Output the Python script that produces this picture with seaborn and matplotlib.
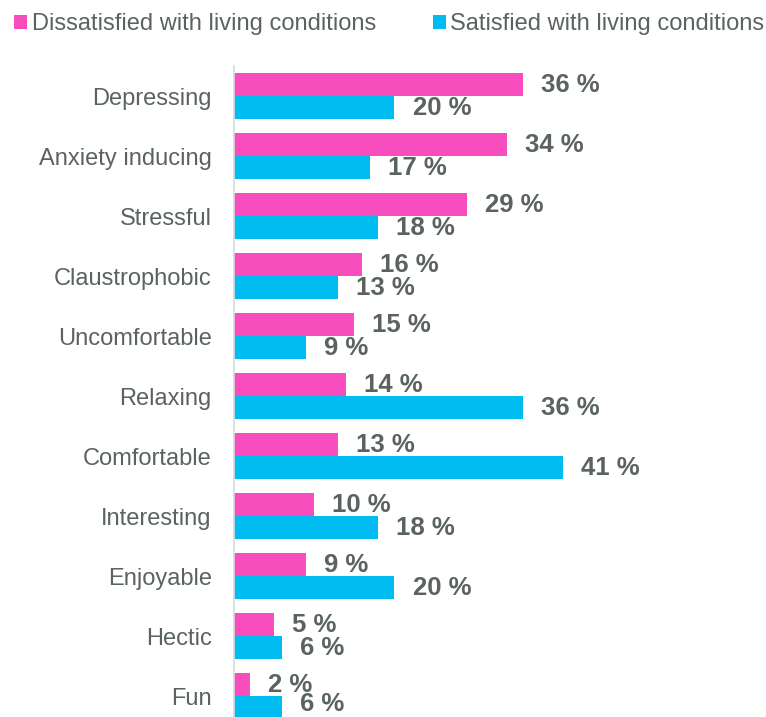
import pandas as pd
import numpy as np
import matplotlib.pyplot as plt
import seaborn as sns
from matplotlib.patches import Patch
from matplotlib.ticker import FixedLocator

sns.set_style("white")
plt.rcParams["font.family"] = ["Liberation Sans", "DejaVu Sans"]

# ====================================
# Data
# ====================================

categories = [
    "Depressing", "Anxiety inducing", "Stressful", "Claustrophobic",
    "Uncomfortable", "Relaxing", "Comfortable", "Interesting",
    "Enjoyable", "Hectic", "Fun"
]
dissatisfied = [36, 34, 29, 16, 15, 14, 13, 10, 9, 5, 2]
satisfied = [20, 17, 18, 13, 9, 36, 41, 18, 20, 6, 6]
groups = ["Dissatisfied with living conditions", "Satisfied with living conditions"]

df = pd.DataFrame({
    "category": categories * 2,
    "value": dissatisfied + satisfied,
    "group": [groups[0]] * len(categories) + [groups[1]] * len(categories),
})

palette = {groups[0]: "#F84DBD", groups[1]: "#00BCF1"}
text_col = "#5B6361"

fig = plt.figure(figsize=(7.66, 7.17), dpi=100)
ax = fig.add_axes([234 / 766, -0.013, 1 - 234 / 766, 0.9205])

sns.barplot(
    data=df,
    x="value",
    y="category",
    hue="group",
    hue_order=groups,
    order=categories,
    palette=palette,
    orient="h",
    width=0.77,
    saturation=1,
    linewidth=0,
    legend=False,
    ax=ax
)

label_sets = []
for cont, vals in zip(ax.containers, [dissatisfied, satisfied]):
    anns = ax.bar_label(
        cont,
        labels=[f"{v} %" for v in vals],
        padding=13,
        fontsize=18.5,
        fontweight="bold",
        color=text_col
    )
    label_sets.append(anns)

# last label sits at the bottom edge, lift it a touch so it stays readable
label_sets[-1][-1].xyann = (13, 3)

ax.set_xlim(0, 66.3)
ax.set_ylim(len(categories) - 0.5, -0.5)
ax.set_xlabel("")
ax.set_ylabel("")
ax.set_xticks([])

for s in ["top", "right", "bottom"]:
    ax.spines[s].set_visible(False)
ax.spines["left"].set_color("#D9D9D9")
ax.spines["left"].set_linewidth(1.2)

ax.tick_params(axis="y", which="major", length=0, pad=16, labelsize=17, labelcolor=text_col)
ax.yaxis.set_minor_locator(FixedLocator(np.arange(-0.5, len(categories), 1)))
ax.tick_params(axis="y", which="minor", length=5, color="#D9D9D9", width=1.2)

handles = [Patch(facecolor=palette[g], edgecolor="none") for g in groups]
fig.legend(
    handles,
    groups,
    loc="upper left",
    bbox_to_anchor=(0.0, 1.001),
    ncol=2,
    frameon=False,
    fontsize=17,
    labelcolor=text_col,
    handlelength=0.55,
    handleheight=0.55,
    handletextpad=0.2,
    columnspacing=2.4,
    borderaxespad=0.2
)

plt.savefig("out.png", dpi=100)
plt.close()
